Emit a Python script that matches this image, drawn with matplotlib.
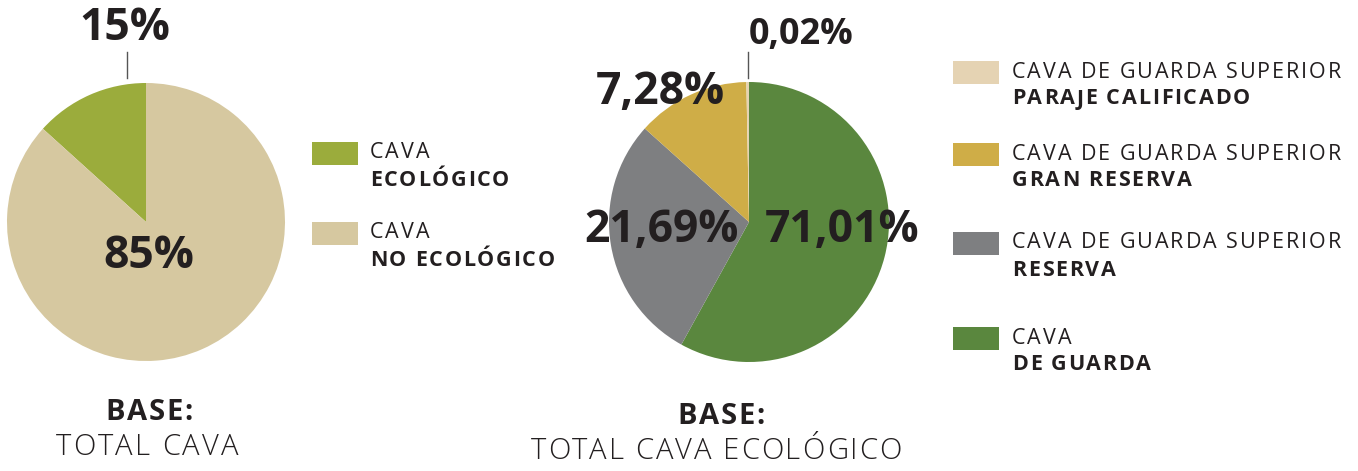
import matplotlib
matplotlib.use("Agg")
import matplotlib.pyplot as plt
from matplotlib.font_manager import FontProperties, findfont
from matplotlib.ft2font import FT2Font

W, H = 1358, 471
INK = "#231f20"

# left pie: cava ecologico vs no ecologico
left_labels = ["15%", "85%"]
left_shares = [13.3, 86.7]          # wedge sizes as drawn in the picture
left_colors = ["#9bac3c", "#d6c8a0"]
left_legend = [("CAVA", "ECOLÓGICO"), ("CAVA", "NO ECOLÓGICO")]

# right pie: clockwise from top -> de guarda, reserva, gran reserva, paraje
right_labels = ["71,01%", "21,69%", "7,28%", "0,02%"]
right_shares = [58.2, 28.7, 13.1, 0.3]   # wedge sizes as drawn in the picture
right_colors = ["#5a873e", "#7e7f81", "#cfad47", "#e5d3b3"]
right_legend = [("CAVA DE GUARDA SUPERIOR", "PARAJE CALIFICADO"),
                ("CAVA DE GUARDA SUPERIOR", "GRAN RESERVA"),
                ("CAVA DE GUARDA SUPERIOR", "RESERVA"),
                ("CAVA", "DE GUARDA")]
right_legend_colors = ["#e5d3b3", "#cfad47", "#7e7f81", "#5a873e"]

FAMILY = ["Open Sans", "DejaVu Sans"]
plt.rcParams["font.family"] = FAMILY

fig = plt.figure(figsize=(W / 100, H / 100), dpi=100)
ax = fig.add_axes([0, 0, 1, 1])


def Y(py):
    return H - py


_fonts = {}


def advances(s, size, weight):
    """per-character advance widths in pixels"""
    if weight not in _fonts:
        path = findfont(FontProperties(family=FAMILY, weight=weight))
        _fonts[weight] = FT2Font(path)
    font = _fonts[weight]
    font.set_size(size, 72)
    out = []
    for ch in s:
        g = font.load_char(ord(ch))
        out.append(g.linearHoriAdvance / 65536 * 100 / 72)
    return out


def spaced_text(x, y, s, size, weight="normal", track=0.0, ha="left"):
    adv = advances(s, size, weight)
    total = sum(adv) + track * (len(s) - 1)
    cx = x - total / 2 if ha == "center" else x
    for ch, a in zip(s, adv):
        if ch != " ":
            ax.text(cx, Y(y), ch, fontsize=size, fontweight=weight, color=INK,
                    ha="left", va="center")
        cx += a + track


ax.pie(left_shares, colors=left_colors, startangle=90, counterclock=True,
       center=(146, Y(222)), radius=139, wedgeprops=dict(linewidth=0))
ax.pie(right_shares, colors=right_colors, startangle=90, counterclock=False,
       center=(749, Y(222)), radius=140, wedgeprops=dict(linewidth=0))
ax.set_xlim(0, W)
ax.set_ylim(0, H)
ax.set_aspect("auto")
ax.axis("off")

big = dict(fontsize=32, fontweight="bold", color=INK, ha="center", va="center")
ax.text(125, Y(28), left_labels[0], **big)
ax.text(149, Y(257), left_labels[1], **big)
ax.text(842, Y(230), right_labels[0], **big)
ax.text(662, Y(230), right_labels[1], **big)
ax.text(660, Y(93), right_labels[2], **big)
ax.text(801, Y(35), right_labels[3], fontsize=26, fontweight="bold",
        color=INK, ha="center", va="center")

# leader lines
ax.plot([127, 127], [Y(52), Y(78)], color="#555555", lw=1)
ax.plot([748, 748], [Y(52), Y(78)], color="#555555", lw=1)

# bases
spaced_text(149, 412, "BASE:", 21, "bold", track=1.5, ha="center")
spaced_text(147, 447, "TOTAL CAVA", 21, "light", track=2.2, ha="center")
spaced_text(721, 416, "BASE:", 21, "bold", track=1.5, ha="center")
spaced_text(716, 451, "TOTAL CAVA ECOLÓGICO", 21, "light", track=2.0,
            ha="center")


def legend_item(x, ytop, color, line1, line2, tx):
    ax.add_patch(plt.Rectangle((x, Y(ytop + 23)), 46, 23, color=color, lw=0))
    spaced_text(tx, ytop + 11, line1, 15.5, "normal", track=1.9)
    spaced_text(tx, ytop + 38, line2, 15.5, "bold", track=1.7)


for (l1, l2), c, yt in zip(left_legend, left_colors, [142, 222]):
    legend_item(312, yt, c, l1, l2, 370)

for (l1, l2), c, yt in zip(right_legend, right_legend_colors,
                           [61, 143, 232, 327]):
    legend_item(953, yt, c, l1, l2, 1012)

fig.savefig("out.png", dpi=100)
